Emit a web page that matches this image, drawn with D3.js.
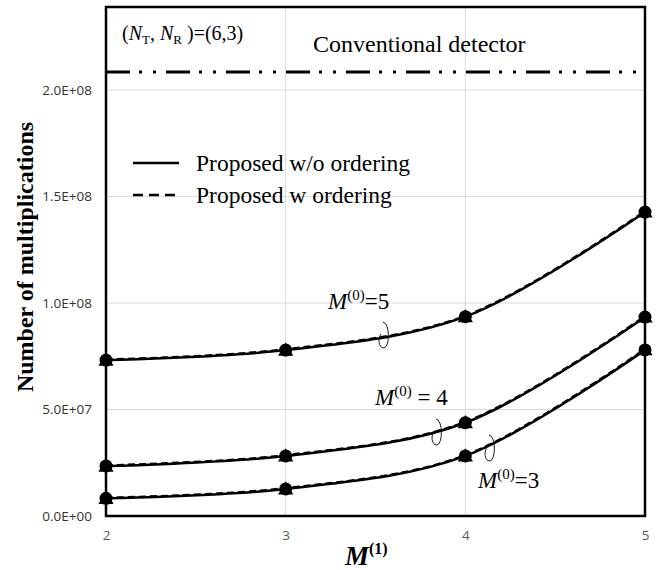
<!DOCTYPE html>
<html><head><meta charset="utf-8">
<script src="https://cdn.jsdelivr.net/npm/d3@7"></script>
<style>body{margin:0;background:#fff} .tick text{font-family:"Open Sans",sans-serif;font-size:13.5px}</style>
</head><body>
<svg id="c" width="658" height="570"></svg>
<script>
const xValues = [2, 3, 4, 5];
const yTicks = [0, 5e7, 1e8, 1.5e8, 2e8];
const yTickLabels = ["0.0E+00", "5.0E+07", "1.0E+08", "1.5E+08", "2.0E+08"];
const conventional = 2.085e8;
const woOrderM5 = [7.32e7, 7.79e7, 9.36e7, 1.427e8];
const woOrderM4 = [2.35e7, 2.82e7, 4.38e7, 9.34e7];
const woOrderM3 = [8.3e6, 1.27e7, 2.82e7, 7.8e7];
const wOrderM5 = [7.35e7, 7.83e7, 9.40e7, 1.432e8];
const wOrderM4 = [2.38e7, 2.86e7, 4.42e7, 9.39e7];
const wOrderM3 = [8.6e6, 1.31e7, 2.86e7, 7.85e7];

const svg = d3.select("#c");
const L = 106, R = 645, T = 7, B = 516;
const x = d3.scaleLinear().domain([2, 5]).range([L, R]);
const y = d3.scaleLinear().domain([0, 2.39e8]).range([B, T]);

// gridlines
svg.append("g").selectAll("line.h").data(yTicks.slice(1)).join("line")
  .attr("x1", L).attr("x2", R).attr("y1", d => y(d)).attr("y2", d => y(d))
  .attr("stroke", "#d9d9d9").attr("stroke-width", 1);
svg.append("g").selectAll("line.v").data(xValues.slice(1, 3)).join("line")
  .attr("y1", T).attr("y2", B).attr("x1", d => x(d)).attr("x2", d => x(d))
  .attr("stroke", "#d9d9d9").attr("stroke-width", 1);

// axes tick labels
const yAxis = d3.axisLeft(y).tickValues(yTicks).tickFormat((d, i) => yTickLabels[i]).tickSize(0).tickPadding(14);
const gy = svg.append("g").attr("transform", `translate(${L},0)`).call(yAxis);
gy.select(".domain").remove();
gy.selectAll("text").style("font-size", "13.5px").style("font-family", "'Open Sans', sans-serif").attr("fill", "#333");
const xAxis = d3.axisBottom(x).tickValues(xValues).tickFormat(d3.format("d")).tickSize(0).tickPadding(14);
const gx = svg.append("g").attr("transform", `translate(0,${B})`).call(xAxis);
gx.select(".domain").remove();
gx.selectAll("text").style("font-size", "13.5px").style("font-family", "'Open Sans', sans-serif").attr("fill", "#595959");

// conventional line
svg.append("line").attr("x1", L).attr("x2", R).attr("y1", y(conventional)).attr("y2", y(conventional))
  .attr("stroke", "#000").attr("stroke-width", 3).attr("stroke-dasharray", "24,9,3,11,3,10");

const line = d3.line().x((d, i) => x(xValues[i])).y(d => y(d)).curve(d3.curveCatmullRom.alpha(0.5));
[woOrderM5, woOrderM4, woOrderM3].forEach(s => {
  svg.append("path").attr("d", line(s)).attr("fill", "none").attr("stroke", "#000").attr("stroke-width", 2.5);
});
[wOrderM5, wOrderM4, wOrderM3].forEach(s => {
  svg.append("path").attr("d", line(s)).attr("fill", "none").attr("stroke", "#000").attr("stroke-width", 2.2).attr("stroke-dasharray", "7,4");
});
// markers
[wOrderM5, wOrderM4, wOrderM3].forEach(s => {
  svg.append("g").selectAll("path").data(s).join("path")
    .attr("d", d3.symbol(d3.symbolTriangle, 100)())
    .attr("transform", (d, i) => `translate(${x(xValues[i])},${y(d) + 2})`).attr("fill", "#000");
});
[woOrderM5, woOrderM4, woOrderM3].forEach(s => {
  svg.append("g").selectAll("circle").data(s).join("circle")
    .attr("cx", (d, i) => x(xValues[i])).attr("cy", d => y(d)).attr("r", 6.5).attr("fill", "#000");
});

// border
svg.append("rect").attr("x", L).attr("y", T).attr("width", R - L).attr("height", B - T)
  .attr("fill", "none").attr("stroke", "#000").attr("stroke-width", 2.5);

const serif = "Liberation Serif, Times New Roman, serif";
// texts
const t1 = svg.append("text").attr("x", 122).attr("y", 40).attr("font-family", serif).attr("font-size", 20);
t1.append("tspan").text("(");
t1.append("tspan").attr("font-style", "italic").text("N");
t1.append("tspan").attr("font-size", 13).attr("dy", 4).text("T");
t1.append("tspan").attr("dy", -4).text(", ");
t1.append("tspan").attr("font-style", "italic").text("N");
t1.append("tspan").attr("font-size", 13).attr("dy", 4).text("R");
t1.append("tspan").attr("dy", -4).text(" )=(6,3)");

svg.append("text").attr("x", 313).attr("y", 52).attr("font-family", serif).attr("font-size", 24).text("Conventional detector");

// legend
svg.append("line").attr("x1", 133).attr("x2", 179).attr("y1", 163).attr("y2", 163).attr("stroke", "#000").attr("stroke-width", 2.5);
svg.append("line").attr("x1", 133).attr("x2", 179).attr("y1", 195).attr("y2", 195).attr("stroke", "#000").attr("stroke-width", 2.5).attr("stroke-dasharray", "10,6");
svg.append("text").attr("x", 196).attr("y", 171).attr("font-family", serif).attr("font-size", 23.5).text("Proposed w/o ordering");
svg.append("text").attr("x", 196).attr("y", 203).attr("font-family", serif).attr("font-size", 23.5).text("Proposed w ordering");

// annotations
function mlabel(xp, yp, rest) {
  const t = svg.append("text").attr("x", xp).attr("y", yp).attr("font-family", serif).attr("font-size", 23);
  t.append("tspan").attr("font-style", "italic").text("M");
  t.append("tspan").attr("font-size", 15).attr("dy", -9).text("(0)");
  t.append("tspan").attr("dy", 9).text(rest);
}
mlabel(328, 309, "=5");
mlabel(375, 405, " = 4");
mlabel(478, 488, "=3");
function loop(cx, cy) {
  svg.append("path")
    .attr("d", `M${cx - 1},${cy - 13} C${cx + 6},${cy - 12} ${cx + 6},${cy + 12} ${cx},${cy + 13} C${cx - 6},${cy + 13} ${cx - 6},${cy + 3} ${cx - 3},${cy - 1}`)
    .attr("fill", "none").attr("stroke", "#000").attr("stroke-width", 0.9);
}
loop(384, 335);
loop(437, 432);
loop(490, 448);

// axis titles
svg.append("text").attr("transform", `translate(33,257) rotate(-90)`).attr("text-anchor", "middle")
  .attr("font-family", serif).attr("font-size", 24).attr("font-weight", "bold").text("Number of multiplications");
const xt = svg.append("text").attr("x", 345).attr("y", 565).attr("font-family", serif).attr("font-size", 27).attr("font-weight", "bold");
xt.append("tspan").attr("font-style", "italic").text("M");
xt.append("tspan").attr("font-size", 16).attr("dy", -11).text("(1)");
</script>
</body></html>
